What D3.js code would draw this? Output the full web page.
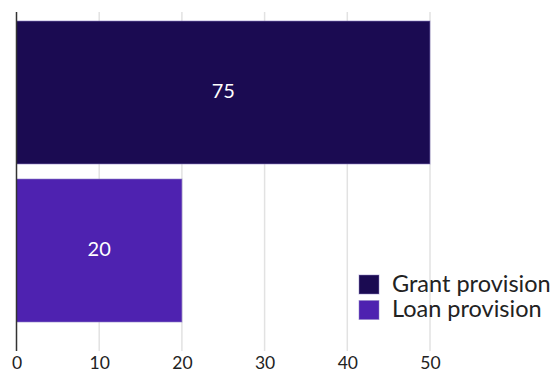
<!DOCTYPE html>
<html>
<head>
<meta charset="utf-8">
<script src="https://cdn.jsdelivr.net/npm/d3@7"></script>
<style>
  html, body { margin: 0; padding: 0; background: #fff; }
  svg { display: block; font-family: Lato, "Open Sans", sans-serif; }
</style>
</head>
<body>
<svg id="chart" width="558" height="374"></svg>
<script>
// Provision categories and their values
const categories = ["Grant provision", "Loan provision"];
const values = [75, 20];
const colors = ["#1b0b52", "#4e22b0"];
const xTicks = [0, 10, 20, 30, 40, 50];

const svg = d3.select("#chart");
const plotTop = 12, plotBottom = 351;

// Axis runs 0..50; values beyond the axis are clamped to its end
const x = d3.scaleLinear().domain([0, 50]).range([16.5, 430]).clamp(true);
const y = d3.scaleBand().domain(categories).range([21, 322]).paddingInner(0.095);

// Vertical gridlines
svg.append("g")
  .selectAll("line")
  .data(xTicks.slice(1))
  .join("line")
  .attr("x1", d => x(d)).attr("x2", d => x(d))
  .attr("y1", plotTop).attr("y2", plotBottom)
  .attr("stroke", "#e2e2e2")
  .attr("stroke-width", 1.5);

// Bars
svg.append("g")
  .selectAll("rect")
  .data(categories)
  .join("rect")
  .attr("x", x(0))
  .attr("y", d => y(d))
  .attr("width", (d, i) => x(values[i]) - x(0))
  .attr("height", y.bandwidth())
  .attr("fill", (d, i) => colors[i])
  .attr("stroke", "#8d7fc4")
  .attr("stroke-opacity", 0.6)
  .attr("stroke-width", 1);

// Value labels inside bars
svg.append("g")
  .selectAll("text")
  .data(categories)
  .join("text")
  .attr("x", (d, i) => (x(0) + x(values[i])) / 2)
  .attr("y", d => y(d) + y.bandwidth() / 2)
  .attr("dy", "0.28em")
  .attr("text-anchor", "middle")
  .attr("fill", "#fff")
  .attr("font-size", 20)
  .text((d, i) => values[i]);

// Bottom tick labels
const xAxis = d3.axisBottom(x).tickValues(xTicks).tickSize(0).tickPadding(0);
const gx = svg.append("g").attr("transform", "translate(0,369)").call(xAxis);
gx.select(".domain").remove();
gx.selectAll("text")
  .attr("font-family", "Lato, 'Open Sans', sans-serif")
  .attr("font-size", 17.5)
  .attr("fill", "#222")
  .attr("y", 0)
  .attr("dy", 0);

// Vertical category axis line
svg.append("line")
  .attr("x1", x(0)).attr("x2", x(0))
  .attr("y1", plotTop).attr("y2", plotBottom)
  .attr("stroke", "#333")
  .attr("stroke-width", 1.5);

// Legend
const legend = svg.append("g").attr("transform", "translate(359,275)");
const items = legend.selectAll("g")
  .data(categories)
  .join("g")
  .attr("transform", (d, i) => `translate(0,${i * 25.5})`);
items.append("rect")
  .attr("width", 20).attr("height", 19)
  .attr("fill", (d, i) => colors[i])
  .attr("stroke", "#8d7fc4").attr("stroke-opacity", 0.5);
items.append("text")
  .attr("x", 33).attr("y", 16.8)
  .attr("font-size", 23.5)
  .attr("fill", "#222")
  .text(d => d);
</script>
</body>
</html>
